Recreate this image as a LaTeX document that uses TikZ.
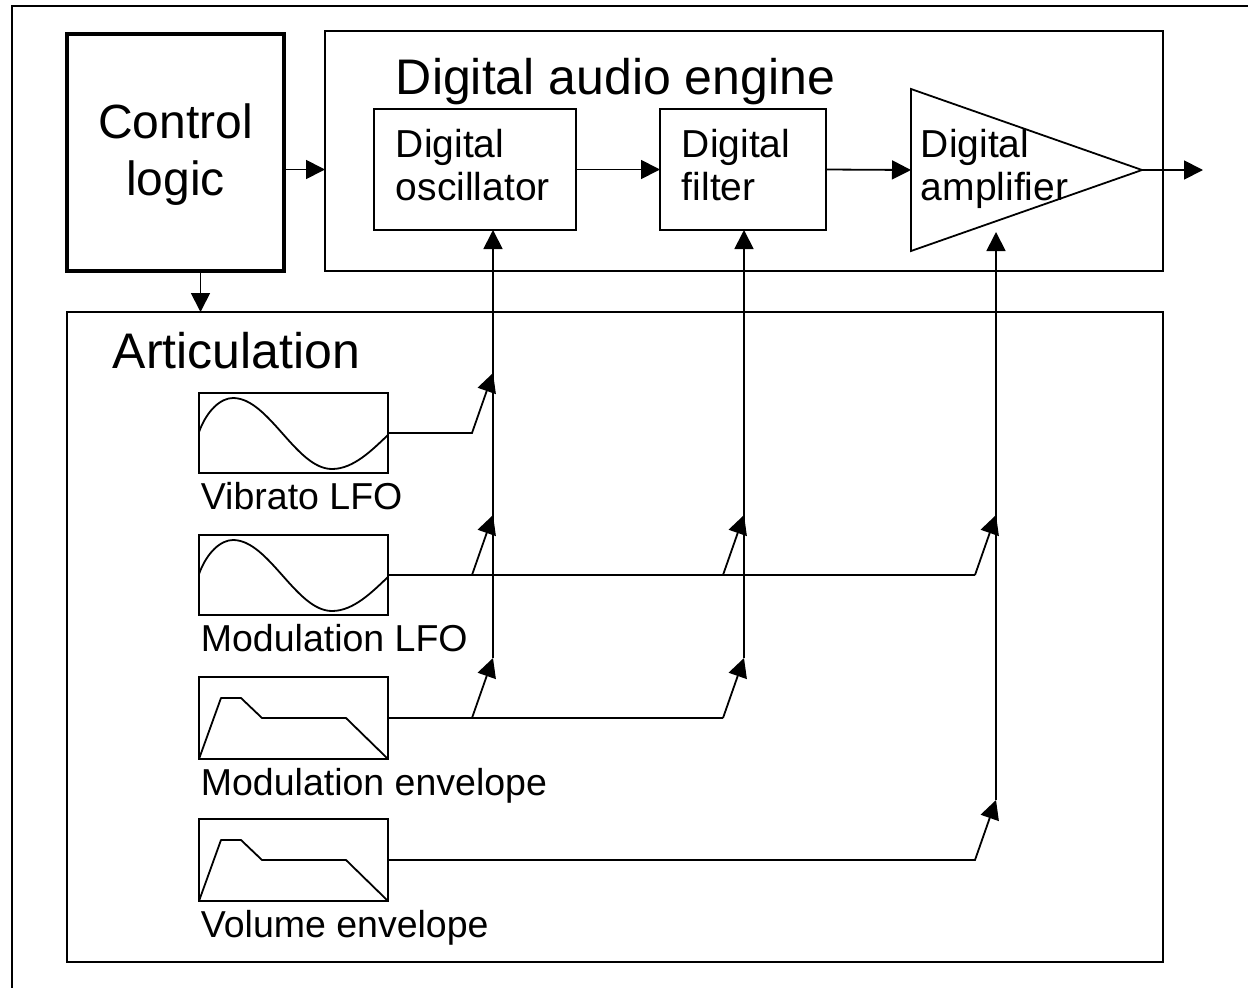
\documentclass[tikz,border=0pt]{standalone}
\usepackage{fontspec}
\setmainfont{Liberation Sans}
\usetikzlibrary{arrows.meta}

\begin{document}
\begin{tikzpicture}[x=1pt,y=-1pt,
  line width=1.8pt,
  frame/.style={draw, line width=1.8pt, inner sep=0pt, outer sep=0pt, anchor=north west},
  sig/.style={-{Triangle[length=19pt,width=19pt]}, line width=1.8pt},
  wire/.style={line width=1.8pt},
  heading/.style={anchor=base west, inner sep=0pt, font=\fontsize{50}{60}\selectfont},
  ctrltext/.style={anchor=base, inner sep=0pt, font=\fontsize{48}{57}\selectfont},
  boxtext/.style={anchor=base west, inner sep=0pt, font=\fontsize{39}{45}\selectfont},
  lbl/.style={anchor=base west, inner sep=0pt, font=\fontsize{37.5}{44}\selectfont},
  wave/.style={line width=1.8pt, line join=round}
]
\clip (0,0) rectangle (1248,988);

% sheet border
\node[frame, minimum width=1300, minimum height=1050] (sheet) at (12,6) {};

% control logic
\node[frame, line width=4pt, minimum width=217, minimum height=237] (ctrl) at (67,34) {};
\node[ctrltext] (ctrlA) at (175.5,138) {Control};
\node[ctrltext] (ctrlB) at (175.5,195) {logic};

% digital audio engine
\node[frame, minimum width=838, minimum height=240] (engine) at (325,31) {};
\node[heading] (engT) at (395,94) {Digital audio engine};

\node[frame, minimum width=202, minimum height=121] (osc) at (374,109) {};
\node[boxtext] (oscA) at (395,157) {Digital};
\node[boxtext] (oscB) at (395,200) {oscillator};

\node[frame, minimum width=166, minimum height=121] (filt) at (660,109) {};
\node[boxtext] (filtA) at (681,157) {Digital};
\node[boxtext] (filtB) at (681,200) {filter};

% amplifier triangle
\coordinate (ampin) at (911,170);
\coordinate (ampout) at (1142,170);
\draw[wire, line join=miter] (911,89) -- (ampout) -- (911,251) -- cycle;
\node[boxtext] (ampA) at (920,157) {Digital};
\node[boxtext] (ampB) at (920,200) {amplifier};
\coordinate (audioout) at (1203,170);

% articulation
\node[frame, minimum width=1096, minimum height=650] (artic) at (67,312) {};
\node[heading] (artT) at (112,368) {Articulation};

\node[frame, minimum width=189, minimum height=80] (vib) at (199,393) {};
\node[frame, minimum width=189, minimum height=80] (mlfo) at (199,535) {};
\node[frame, minimum width=189, minimum height=82] (menv) at (199,677) {};
\node[frame, minimum width=189, minimum height=82] (venv) at (199,819) {};

\node[lbl] (vibL) at (200,509) {Vibrato LFO};
\node[lbl] (mlfoL) at (200,651) {Modulation LFO};
\node[lbl] (menvL) at (200,795) {Modulation envelope};
\node[lbl] (venvL) at (200,937) {Volume envelope};

% waveforms
\foreach \b in {vib,mlfo}{
  \begin{scope}[shift={(\b.north west)}]
    \draw[wave] (0,39) .. controls (8,17) and (22,5) .. (34,5)
      .. controls (70,5) and (97,76) .. (133,76)
      .. controls (155,76) and (174,56) .. (189,42);
  \end{scope}
}
\foreach \b in {menv,venv}{
  \begin{scope}[shift={(\b.north west)}]
    \draw[wave] (0,82) -- (22,21) -- (42,21) -- (63,41) -- (147,41) -- (189,82);
  \end{scope}
}

% modulation destinations
\coordinate (oscin) at (493,230);
\coordinate (filtin) at (744,230);
\coordinate (ampmod) at (996,232);

\coordinate (oscV) at (493,373);
\coordinate (oscM) at (493,515);
\coordinate (oscE) at (493,658);
\coordinate (filtM) at (744,515);
\coordinate (filtE) at (744,658);
\coordinate (ampM) at (996,515);
\coordinate (ampE) at (996,800);

% signal path
\draw[sig] (ctrl.east |- osc.east) -- (engine.west |- osc.east);
\draw[sig] ([xshift=25pt]ctrl.south) -- ([xshift=25pt]ctrl.south |- artic.north);
\draw[sig] (osc.east) -- (filt.west);
\draw[sig] (filt.east) -- (ampin);
\draw[sig] (ampout) -- (audioout);

% modulation buses
\draw[sig] (oscE) -- (oscin);
\draw[sig] (filtE) -- (filtin);
\draw[sig] (ampE) -- (ampmod);

% vibrato LFO
\draw[sig] (vib.east) -- (vib.east -| 472,0) -- (oscV);
% modulation LFO
\draw[wire] (mlfo.east) -- (mlfo.east -| 975,0);
\draw[sig] (mlfo.east -| 472,0) -- (oscM);
\draw[sig] (mlfo.east -| 723,0) -- (filtM);
\draw[sig] (mlfo.east -| 975,0) -- (ampM);
% modulation envelope
\draw[wire] (menv.east) -- (menv.east -| 723,0);
\draw[sig] (menv.east -| 472,0) -- (oscE);
\draw[sig] (menv.east -| 723,0) -- (filtE);
% volume envelope
\draw[sig] (venv.east) -- (venv.east -| 975,0) -- (ampE);
\end{tikzpicture}
\end{document}
